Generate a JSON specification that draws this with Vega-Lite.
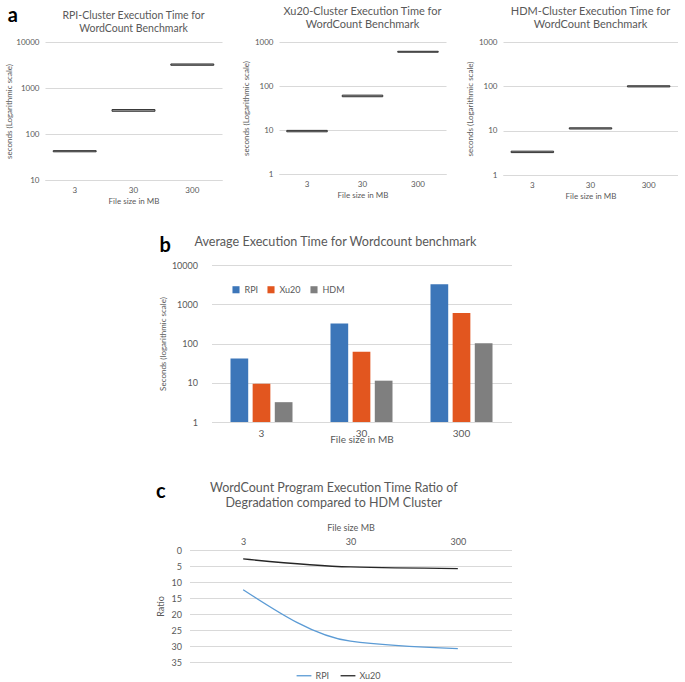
{
  "$schema": "https://vega.github.io/schema/vega-lite/v6.json",
  "padding": {"left": 5, "top": 6, "right": 0, "bottom": 0},
  "background": "white",
  "datasets": {
    "box": [
      {"cluster": "RPI", "size": "3", "lo": 41, "hi": 43.5},
      {"cluster": "RPI", "size": "30", "lo": 312, "hi": 340},
      {"cluster": "RPI", "size": "300", "lo": 3120, "hi": 3330},
      {"cluster": "Xu20", "size": "3", "lo": 9.1, "hi": 9.8},
      {"cluster": "Xu20", "size": "30", "lo": 57, "hi": 62},
      {"cluster": "Xu20", "size": "300", "lo": 585, "hi": 615},
      {"cluster": "HDM", "size": "3", "lo": 3.2, "hi": 3.45},
      {"cluster": "HDM", "size": "30", "lo": 10.9, "hi": 11.6},
      {"cluster": "HDM", "size": "300", "lo": 97, "hi": 103}
    ],
    "avg": [
      {"cluster": "RPI", "size": "3", "seconds": 41.5},
      {"cluster": "Xu20", "size": "3", "seconds": 9.4},
      {"cluster": "HDM", "size": "3", "seconds": 3.2},
      {"cluster": "RPI", "size": "30", "seconds": 322},
      {"cluster": "Xu20", "size": "30", "seconds": 62},
      {"cluster": "HDM", "size": "30", "seconds": 11.3},
      {"cluster": "RPI", "size": "300", "seconds": 3230},
      {"cluster": "Xu20", "size": "300", "seconds": 595},
      {"cluster": "HDM", "size": "300", "seconds": 101}
    ],
    "ratio": [
      {"cluster": "RPI", "size": "3", "ratio": 12.4},
      {"cluster": "RPI", "size": "30", "ratio": 28.5},
      {"cluster": "RPI", "size": "300", "ratio": 30.8},
      {"cluster": "Xu20", "size": "3", "ratio": 2.8},
      {"cluster": "Xu20", "size": "30", "ratio": 5.3},
      {"cluster": "Xu20", "size": "300", "ratio": 5.8}
    ]
  },
  "config": {
    "font": "Lato",
    "view": {"stroke": null},
    "title": {"color": "#595959", "fontWeight": "normal", "font": "Lato"},
    "axis": {
      "labelColor": "#595959",
      "titleColor": "#595959",
      "titleFontWeight": "normal",
      "labelFont": "Lato",
      "titleFont": "Lato",
      "gridColor": "#d9d9d9",
      "domainColor": "#d9d9d9",
      "ticks": false
    },
    "legend": {"labelColor": "#595959", "labelFont": "Lato"}
  },
  "resolve": {"scale": {"color": "independent"}, "legend": {"color": "independent"}},
  "spacing": 31,
  "center": true,
  "vconcat": [
    {
      "title": {"text": "a", "anchor": "start", "frame": "bounds", "fontSize": 20, "fontWeight": "bold", "color": "#000000", "dy": 24, "dx": 2},
      "spacing": 20,
      "hconcat": [
        {
          "width": 177,
          "height": 138,
          "title": {"text": ["RPI-Cluster  Execution  Time for", "WordCount  Benchmark"], "fontSize": 10.5, "offset": 4},
          "data": {"name": "box"},
          "transform": [{"filter": "datum.cluster == 'RPI'"}],
          "mark": {"type": "bar", "fill": "#a6a6a6", "stroke": "#333333", "strokeWidth": 1},
          "encoding": {
            "x": {"field": "size", "type": "ordinal", "sort": ["3", "30", "300"], "scale": {"paddingInner": 0.27, "paddingOuter": 0.14}, "axis": {"labelAngle": 0, "labelFontSize": 8, "title": "File size in MB", "titleFontSize": 8, "labelPadding": 6, "titlePadding": 3}},
            "y": {"field": "lo", "type": "quantitative", "scale": {"type": "log", "domain": [10, 10000]}, "axis": {"values": [10, 100, 1000, 10000], "format": "d", "domain": false, "labelFontSize": 8, "title": "seconds (Logarithmic scale)", "titleFontSize": 8, "labelPadding": 6, "titlePadding": 2}},
            "y2": {"field": "hi"}
          }
        },
        {
          "width": 167,
          "height": 132,
          "title": {"text": ["Xu20-Cluster Execution Time for", "WordCount Benchmark"], "fontSize": 11, "offset": 8},
          "data": {"name": "box"},
          "transform": [{"filter": "datum.cluster == 'Xu20'"}],
          "mark": {"type": "bar", "fill": "#a6a6a6", "stroke": "#333333", "strokeWidth": 1},
          "encoding": {
            "x": {"field": "size", "type": "ordinal", "sort": ["3", "30", "300"], "scale": {"paddingInner": 0.27, "paddingOuter": 0.14}, "axis": {"labelAngle": 0, "labelFontSize": 8, "title": "File size in MB", "titleFontSize": 8, "labelPadding": 6, "titlePadding": 3}},
            "y": {"field": "lo", "type": "quantitative", "scale": {"type": "log", "domain": [1, 1000]}, "axis": {"values": [1, 10, 100, 1000], "format": "d", "domain": false, "labelFontSize": 8, "title": "seconds (Logarithmic scale)", "titleFontSize": 8, "labelPadding": 6, "titlePadding": 4}},
            "y2": {"field": "hi"}
          }
        },
        {
          "width": 175,
          "height": 133,
          "title": {"text": ["HDM-Cluster Execution Time for", "WordCount Benchmark"], "fontSize": 11, "offset": 8},
          "data": {"name": "box"},
          "transform": [{"filter": "datum.cluster == 'HDM'"}],
          "mark": {"type": "bar", "fill": "#a6a6a6", "stroke": "#333333", "strokeWidth": 1},
          "encoding": {
            "x": {"field": "size", "type": "ordinal", "sort": ["3", "30", "300"], "scale": {"paddingInner": 0.27, "paddingOuter": 0.14}, "axis": {"labelAngle": 0, "labelFontSize": 8, "title": "File size in MB", "titleFontSize": 8, "labelPadding": 6, "titlePadding": 3}},
            "y": {"field": "lo", "type": "quantitative", "scale": {"type": "log", "domain": [1, 1000]}, "axis": {"values": [1, 10, 100, 1000], "format": "d", "domain": false, "labelFontSize": 8, "title": "seconds (Logarithmic scale)", "titleFontSize": 8, "labelPadding": 6, "titlePadding": 4}},
            "y2": {"field": "hi"}
          }
        }
      ]
    },
    {
      "spacing": 38,
      "center": true,
      "resolve": {"scale": {"color": "independent"}, "legend": {"color": "independent"}},
      "vconcat": [
        {
          "title": {"text": "b", "anchor": "start", "frame": "bounds", "fontSize": 20, "fontWeight": "bold", "color": "#000000", "dy": 24},
          "hconcat": [
            {
              "width": 300,
              "height": 157,
              "title": {"text": "Average Execution Time for Wordcount  benchmark", "fontSize": 12.6, "frame": "bounds", "offset": 12},
              "data": {"name": "avg"},
              "mark": {"type": "bar"},
              "encoding": {
                "x": {"field": "size", "type": "ordinal", "sort": ["3", "30", "300"], "scale": {"paddingInner": 0.38, "paddingOuter": 0.19}, "axis": {"labelAngle": 0, "labelFontSize": 10, "title": "File size in MB", "titleFontSize": 10, "labelPadding": 6, "titlePadding": -4, "domainColor": "#d9d9d9"}},
                "xOffset": {"field": "cluster", "sort": ["RPI", "Xu20", "HDM"], "scale": {"paddingInner": 0.2}},
                "y": {"field": "seconds", "type": "quantitative", "scale": {"type": "log", "domain": [1, 10000]}, "axis": {"values": [1, 10, 100, 1000, 10000], "format": "d", "domain": false, "labelFontSize": 9, "title": "Seconds (logarithmic scale)", "titleFontSize": 8, "labelPadding": 14, "titlePadding": 4}},
                "y2": {"datum": 1},
                "color": {"field": "cluster", "type": "nominal", "sort": ["RPI", "Xu20", "HDM"], "scale": {"domain": ["RPI", "Xu20", "HDM"], "range": ["#3c76b9", "#e2561f", "#7f7f7f"]}, "legend": {"title": null, "orient": "top-left", "direction": "horizontal", "symbolType": "square", "symbolSize": 50, "labelFontSize": 9, "offset": 20, "columnPadding": 8, "padding": 0}}
              }
            }
          ]
        },
        {
          "title": {"text": "c", "anchor": "start", "frame": "bounds", "fontSize": 20, "fontWeight": "bold", "color": "#000000", "dy": 24},
          "spacing": 0,
          "resolve": {"scale": {"color": "independent"}, "legend": {"color": "independent"}},
          "hconcat": [
            {
              "width": 322,
              "height": 112,
              "title": {"text": ["WordCount  Program Execution Time Ratio of", "Degradation compared to HDM Cluster"], "fontSize": 12.5, "frame": "bounds", "offset": 14},
              "data": {"name": "ratio"},
              "mark": {"type": "line", "interpolate": "monotone", "strokeWidth": 1.3},
              "encoding": {
                "x": {"field": "size", "type": "ordinal", "sort": ["3", "30", "300"], "scale": {"type": "point", "padding": 0.5}, "axis": {"orient": "top", "labelAngle": 0, "labelFontSize": 9, "title": "File size MB", "titleFontSize": 9, "labelPadding": 4, "titlePadding": 5, "domain": false}},
                "y": {"field": "ratio", "type": "quantitative", "scale": {"domain": [0, 35], "reverse": true}, "axis": {"values": [0, 5, 10, 15, 20, 25, 30, 35], "domain": false, "labelFontSize": 9, "title": "Ratio", "titleFontSize": 9, "labelPadding": 8, "titlePadding": 6}},
                "color": {"field": "cluster", "type": "nominal", "sort": ["RPI", "Xu20"], "scale": {"domain": ["RPI", "Xu20"], "range": ["#5b9bd5", "#262626"]}, "legend": {"title": null, "orient": "none", "legendX": 106, "legendY": 117, "direction": "horizontal", "symbolType": "stroke", "symbolStrokeWidth": 1.3, "symbolSize": 220, "labelFontSize": 9, "labelOffset": 3, "columnPadding": 8, "padding": 0}}
              }
            },
            {
              "width": 22,
              "height": 112,
              "data": {"values": []},
              "mark": {"type": "point", "opacity": 0},
              "encoding": {}
            }
          ]
        }
      ]
    }
  ]
}
